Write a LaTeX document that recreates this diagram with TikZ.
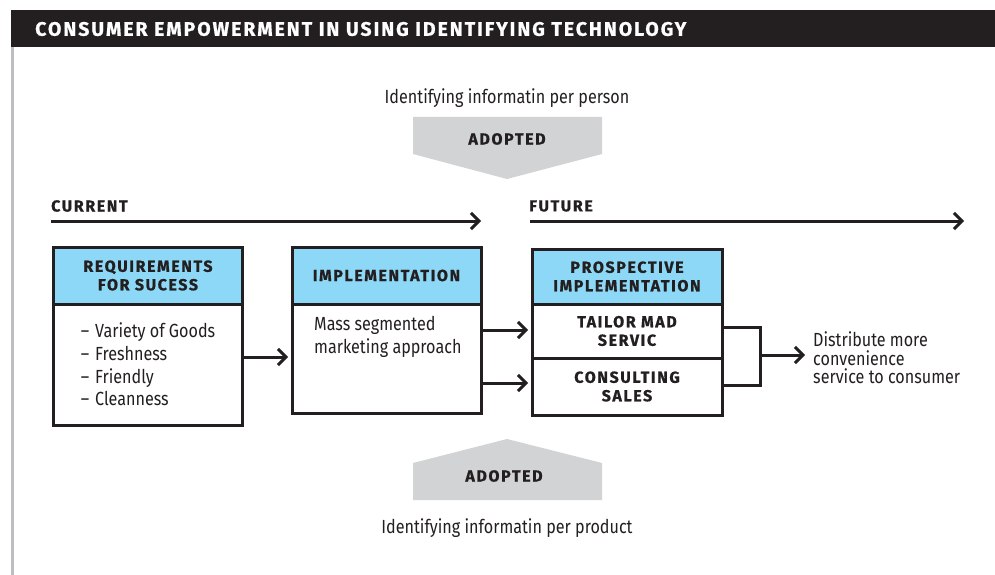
\documentclass[tikz,border=0pt]{standalone}
\usepackage{fontspec}
\setmainfont{Fira Sans}[FakeStretch=0.85]
\newfontfamily\capsfont{Fira Sans}[LetterSpace=10,FakeBold=0.8]
\usetikzlibrary{positioning,arrows.meta}

\definecolor{ink}{RGB}{35,31,32}
\definecolor{headblue}{RGB}{141,216,246}
\definecolor{adoptgray}{RGB}{209,211,212}
\definecolor{railgray}{RGB}{190,190,192}

\newcommand{\dashitem}[1]{--\hspace{6pt}#1}

\tikzset{
    caps/.style={font=\capsfont\bfseries\fontsize{16}{18.5}\selectfont, text=ink},
    plain/.style={font=\fontsize{19}{22.7}\selectfont, text=ink},
    head/.style={draw=ink, line width=3pt, fill=headblue, minimum width=189pt,
        inner sep=0pt, outer sep=0pt, align=center, caps},
    body/.style={draw=ink, line width=3pt, minimum width=189pt,
        inner sep=0pt, outer sep=0pt},
    link/.style={draw=ink, line width=3pt},
    flow/.style={link, -{Straight Barb[length=8pt,width=16pt]}},
}

\begin{document}
\begin{tikzpicture}[x=1pt,y=-1pt]
    \useasboundingbox (0,0) rectangle (995,575);

    % title bar and side rail
    \fill[ink] (11,10) rectangle (995,47);
    \node[caps, text=white, anchor=west, inner sep=0pt,
        font=\capsfont\bfseries\fontsize{19.5}{22}\selectfont] (title) at (35,29)
        {CONSUMER EMPOWERMENT IN USING IDENTIFYING TECHNOLOGY};
    \fill[railgray] (11,47) rectangle (14,575);

    % adopted arrows
    \fill[adoptgray] (413,117) -- (602,117) -- (602,154) -- (507,179) -- (413,154) -- cycle;
    \node[plain] (perPerson) at (507,98) {Identifying informatin per person};
    \node[caps] (adoptTop) at (507,139) {ADOPTED};

    \fill[adoptgray] (413,500) -- (602,500) -- (602,463) -- (507,439) -- (413,463) -- cycle;
    \node[caps] (adoptBottom) at (504,476) {ADOPTED};
    \node[plain] (perProduct) at (507,528) {Identifying informatin per product};

    % time lines
    \node[caps, anchor=west, inner sep=0pt] (current) at (51,206) {CURRENT};
    \coordinate (curStart) at (51,221);
    \coordinate (curEnd) at (481,221);
    \draw[flow] (curStart) -- (curEnd);

    \node[caps, anchor=west, inner sep=0pt] (future) at (529,206) {FUTURE};
    \coordinate (futStart) at (530,221);
    \coordinate (futEnd) at (964,221);
    \draw[flow] (futStart) -- (futEnd);

    % requirements
    \node[head, minimum height=57pt] (reqHead) at (148,275.5) {REQUIREMENTS\\FOR SUCESS};
    \node[body, below=0pt of reqHead, minimum height=121pt, align=left, plain] (reqBody)
        {\dashitem{Variety of Goods}\\\dashitem{Freshness}\\\dashitem{Friendly}\\\dashitem{Cleanness}};

    % implementation
    \node[head, minimum height=57pt] (impHead) at (386.5,275.5) {IMPLEMENTATION};
    \node[body, below=0pt of impHead, minimum height=109pt] (impBody) {};
    \node[plain, align=left, anchor=north west, inner sep=0pt] (impText)
        at ([xshift=22pt,yshift=-12pt]impBody.north west) {Mass segmented\\marketing approach};

    % prospective implementation
    \node[head, minimum width=190pt, minimum height=55pt] (proHead) at (627,276.5)
        {PROSPECTIVE\\IMPLEMENTATION};
    \node[body, minimum width=190pt, below=0pt of proHead, minimum height=54pt,
        align=center, caps] (tailorBody) {TAILOR MAD\\SERVIC};
    \node[body, minimum width=190pt, below=0pt of tailorBody, minimum height=57pt,
        align=center, caps] (consultBody) {CONSULTING\\SALES};

    % result
    \node[plain, align=left, anchor=west, inner sep=0pt,
        font=\fontsize{19}{18.5}\selectfont] (distrib) at (813,358)
        {Distribute more\\convenience\\service to consumer};

    % connectors
    \draw[flow, shorten >=4pt] (reqBody.east |- 0,357) -- (impBody.west |- 0,357);
    \draw[flow, shorten >=4pt] (impBody.east |- 0,330) -- (tailorBody.west |- 0,330);
    \draw[flow, shorten >=4pt] (impBody.east |- 0,383) -- (consultBody.west |- 0,383);
    \coordinate (join) at (760,355);
    \draw[link] (tailorBody.east |- 0,327) -| (join) |- (consultBody.east |- 0,385);
    \draw[flow, shorten >=8pt] (join) -- (distrib.west |- join);
\end{tikzpicture}
\end{document}
